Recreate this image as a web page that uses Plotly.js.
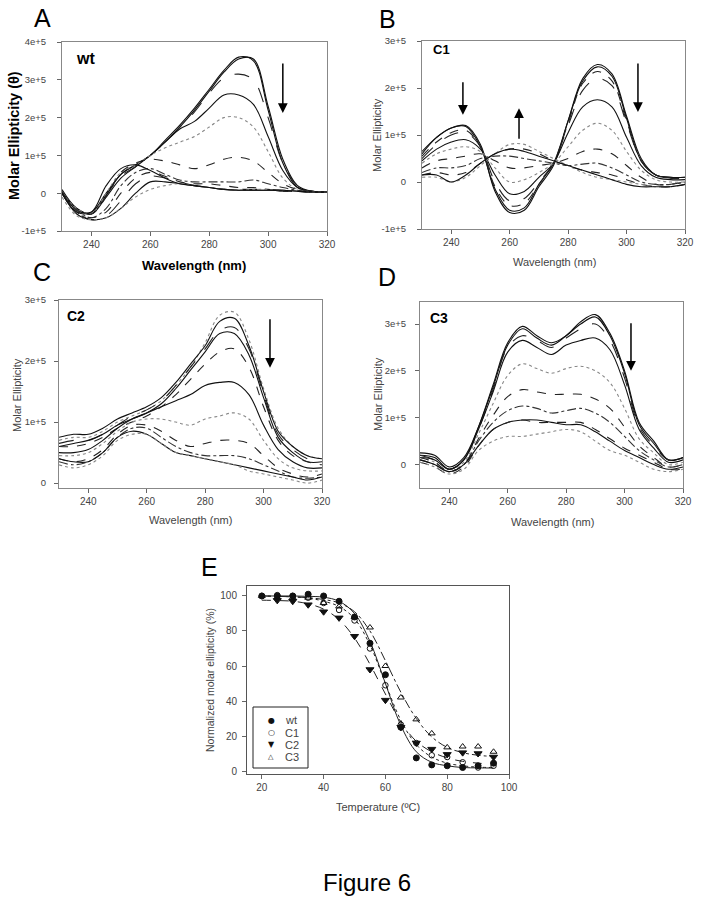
<!DOCTYPE html>
<html><head><meta charset="utf-8">
<script src="https://cdn.plot.ly/plotly-3.0.1.min.js"></script>
<style>html,body{margin:0;padding:0;background:#fff}#chart{width:701px;height:904px}</style>
</head><body><div id="chart"></div>
<script>
// Wavelength grid (nm)
const WAVELENGTH = [230,235,240,245,250,255,260,265,270,275,280,285,290,295,300,305,310,315,320];
// Molar ellipticity spectra, values in units of 1e4
const SPEC_WT = [
 [1,-4,-5.5,-1,4,7,10,13.5,17.5,22,27,32,35.5,35.5,23,9,2,0.5,0.3],
 [0.5,-4.5,-5,0,5,7.5,10,14,18,22.5,27.5,32.5,36,35,22,8,1.5,0.5,0.3],
 [0,-4,-5.5,-0.5,4.5,7,10,13.5,17.5,21.5,26.5,30.5,31.5,30,20,8,2,0.5,0.3],
 [0,-4,-5.5,-0.5,5,7.5,10,13.5,17,19,22.5,26,26,23.5,15,6,1.5,0.5,0.3],
 [0,-4,-5.5,0,5.5,7.5,10,12,13.5,15,17.5,20,20,17.5,11,4,1,0.5,0.3],
 [0,-4.5,-5.5,-1,5.5,8,9,8.5,7.5,6.5,7.5,9,9.5,8.5,5.5,2.5,1,0.5,0.3],
 [0,-4.5,-6.5,-4,2,5.5,6.5,5,3.5,3,3,3,3,3.5,2.5,1.5,0.8,0.5,0.3],
 [0,-5,-6.5,-5,0,4,5.5,4.5,3,2.5,2.5,2,1.5,1.5,1,0.5,0.5,0.3,0.3],
 [0,-5,-7,-6,-2,2.5,4.5,4,3,2,1.5,1,1,1,1,0.5,0.5,0.3,0.3],
 [0,-5.5,-7,-6.5,-4,0,3,3,2.5,2,1.5,1,0.8,0.8,0.8,0.8,0.5,0.3,0.3],
 [-1,-6,-7,-6.5,-4,-1,1,2,2.5,2,1.5,1,0.8,1,1,0.8,0.5,0.3,0.3],
 [0,-5,-5,2,6.5,7.5,6,4,2.5,2,1.5,1,0.8,0.8,0.8,0.8,0.5,0.3,0.3]
];
const SPEC_C1 = [
 [6,9.5,11.5,12,8,-2,-6.5,-6,-1,3.5,13,22,25,23,14,5,1.5,1,1],
 [6.5,9.5,11.5,11.8,7.5,-1.5,-6,-5.5,-0.5,4,13,21.5,24.5,22.5,13.5,4.5,1.5,1,1],
 [5.5,8.5,10.5,11,7.5,-1,-5,-4.5,-0.5,4,12.5,21,23.5,21.5,13,4.5,1.5,0.8,0.8],
 [5,8,10,10.5,7.5,0,-4,-3.5,0,4,12,19.5,22,20.5,12.5,4.5,1.5,0.8,0.8],
 [4.5,7,8.5,9,7,1.5,-2.5,-2,1,4,10.5,16,17.5,16,9.5,3.5,1,0.5,0.5],
 [4,6,7,7.5,6.5,3,0,0.5,2,4,7.5,11,12.5,11,6.5,2.5,0.5,0,0],
 [3,4.5,5,5.5,6,4.5,3,3,3.5,4,5,6.5,7,6,3.5,1,-0.5,-0.5,0],
 [2,3,3,3.5,5,5.5,5.5,5,4.5,4,3.5,3.8,4,3,1.5,0,-0.5,-0.5,0],
 [1.5,2,1.5,2,4,6,7,7,6,4.5,3.5,2.5,2,1.5,0.5,-0.5,-1,-1,-0.5],
 [1,1,0,1,3.5,6,8,8,6.5,5,3.5,2,1,0.5,0,-0.5,-1,-1,-0.5],
 [1.5,1.5,0,1.5,4,6,7,6.5,5.5,4.5,3.5,2.5,1.5,0.5,-0.5,-1,-1,-1,-0.5]
];
const SPEC_C2 = [
 [7,7.5,7.5,8.5,10,11,12,13.5,16,19,23,27.5,28,23.5,15.5,9,6,4.5,4],
 [7.5,8,8,9,10.5,11.5,12.5,14,16.5,19.5,22.5,26.5,27,22.5,15,8.5,6,4.5,4],
 [6.5,7,7,8,9.5,11,12,13.5,16,19,22,25,25.5,22,14.5,8,5.5,4,3.5],
 [6,6.5,7,8,9.5,10.5,11.5,13,15.5,18.5,21.5,24.5,24.5,21,14,7.5,5,3.5,3.5],
 [6,6,6.5,7.5,9,10,11,12.5,14.5,17,19.5,21.5,22,19,12.5,7,4.5,3.5,3],
 [5,5,5.5,7,9,10.5,11.5,12.5,13.5,14.5,16,16.5,16.5,14.5,9.5,5.5,3.5,2.5,2.5],
 [4.5,4.5,5,6.5,8.5,10,10.5,10.5,10,9.5,10.5,11,11.5,10.5,7,4,2.5,2,2],
 [4,3.5,4,5.5,8,9.5,9.5,8.5,7,6,6.5,7,7,6.5,4.5,2.5,1.5,1,1.5],
 [3.5,3,3.5,5,7.5,9,9,7.5,6,5,4.5,4.5,4.5,4,3,2,1,0.8,1],
 [4,3.5,3.5,5,7.5,8.5,8,6.5,5,4.5,4,3.5,3,2.5,2,1.5,1,0.5,1],
 [3,2.5,3,4.5,7,8,8,6.5,5,4.5,4,3.5,3,2,1.5,1,0.5,0,0.5]
];
const SPEC_C3 = [
 [2,1.5,-1,1,8,17,26,29.5,27.5,26,27.5,30.5,32,28,20,9,5,1,1.5],
 [2.5,2,-0.5,1.5,8,16.5,25.5,29,27,25.5,27.5,30,31.5,27.5,19.5,8.5,4.5,1,1.5],
 [2,1,-1,1,7.5,16,25,27.5,26.5,25,27,29,30,26.5,18.5,8,4,1,1],
 [1.5,1,-1,1,7.5,15.5,24,26.5,25,23.5,25.5,26.5,27,24.5,17,7.5,3.5,0.5,1],
 [1.5,0.5,-1.5,0.5,6.5,13,19,21.5,20.5,19.5,20.5,21,20,17.5,12,5.5,2.5,0,0.5],
 [1.5,0.5,-1.5,0,5.5,10.5,14.5,16,15.5,15,15,15,14,12,8,4,1.5,-0.5,0],
 [1,0,-1.5,0,5,9,11.5,12.5,12,11,11.5,12,11,9,6,3,1,-0.5,0],
 [1,0,-1.5,0,4,7.5,9,9.5,9.5,9,8.5,8.5,7,5,3,1.5,0,-1,-0.5],
 [0.5,-0.5,-2,-0.5,4,7.5,9,9.5,9,9,9,9,7.5,5.5,3.5,2,0.5,-1,-1],
 [0.5,-0.5,-2,-1,3,5,6,6,6.5,7,7.5,7,5,3,2,0.5,-1,-1.5,-1]
];
// Thermal denaturation (panel E)
const TEMP = [20,25,30,35,40,45,50,55,60,65,70,75,80,85,90,95];
const TEMP_C2 = [25,30,35,40,45,50,55,60,65,70,75,80,85,90,95];
const E_WT = [100,100,100,101,100,97,88,73,55,25,7.5,3.5,3,2,3,4.5];
const E_C1 = [100,100.5,100,99,96,92,86,70,49,26.5,16,9,8,5,2,3];
const E_C2 = [97.5,97,95,91,87.5,77,58,40.5,25,16,12.5,9.5,10.5,10,8];
const E_C3 = [100,99,99,99,96,94,88,82,60,42,29.5,21.5,13.5,14,14,11];
const FIT_WT = [100,100,100,99.8,99.3,97,90,74,50,26,11,5,3,2,1.8,1.7];
const FIT_C1 = [100,99.8,99.5,98.8,97,94,87,72,50,29,15,8,4.5,3,2.2,2];
const FIT_C2 = [97.6,97.4,97,95.5,92.5,86.5,76,61,44,28,17,11,7.5,5.5,4.5,4];
const FIT_C3 = [100,99.8,99.5,99,98,96,91,80,63,45,30,19.5,13.5,10.5,9,8.3];
const SERIES_NAMES = ['wt','C1','C2','C3'];
const LEGEND_GLYPHS = ['●','○','▼','△'];

const WL_TICKS = [240,260,280,300,320];
const Y_TICKVALS = [-10,0,10,20,30,40];
const Y_TICKTEXT = ['-1e+5','0','1e+5','2e+5','3e+5','4e+5'];
const T_TICKS = [20,40,60,80,100];
const P_TICKS = [0,20,40,60,80,100];

const W = 701, H = 904;
const fx = p => p / W, fy = p => 1 - p / H;
const FONT = 'Liberation Sans, Arial, sans-serif';

const STY = {
  s:  {dash:'solid', color:'#111'},
  d:  {dash:'dash', color:'#222'},
  ld: {dash:'longdash', color:'#222'},
  o:  {dash:'dot', color:'#888'},
  dd: {dash:'dashdot', color:'#333'}
};
const STYLE_WT = ['s','s','ld','s','o','d','dd','d','ld','s','o','s'];
const STYLE_C1 = ['s','s','d','ld','s','o','d','dd','d','o','s'];
const STYLE_C2 = ['o','s','ld','s','d','s','o','d','dd','s','o'];
const STYLE_C3 = ['s','s','ld','s','o','d','dd','s','d','o'];

const traces = [];
function addSpectra(curves, styles, xa, ya) {
  curves.forEach((c, i) => {
    const st = STY[styles[i]];
    traces.push({x: WAVELENGTH, y: c, xaxis: xa, yaxis: ya, mode: 'lines', showlegend: false,
      hoverinfo: 'skip', line: {shape: 'spline', smoothing: 1, width: 1.1, dash: st.dash, color: st.color}});
  });
}
addSpectra(SPEC_WT, STYLE_WT, 'x', 'y');
addSpectra(SPEC_C1, STYLE_C1, 'x2', 'y2');
addSpectra(SPEC_C2, STYLE_C2, 'x3', 'y3');
addSpectra(SPEC_C3, STYLE_C3, 'x4', 'y4');

// Panel E fits
[[FIT_WT,'solid'],[FIT_C1,'dot'],[FIT_C2,'dash'],[FIT_C3,'dashdot']].forEach(([f,d]) => {
  traces.push({x: TEMP, y: f, xaxis: 'x5', yaxis: 'y5', mode: 'lines', showlegend: false,
    line: {shape: 'spline', smoothing: 1, width: 1, dash: d, color: '#222'}});
});
const mk = (name, x, y, sym, size) => ({x, y, name, xaxis: 'x5', yaxis: 'y5', mode: 'markers', showlegend: false,
  marker: {symbol: sym, size, color: '#111', line: {width: 1, color: '#111'}}});
traces.push(mk(SERIES_NAMES[0], TEMP, E_WT, 'circle', 6));
traces.push(mk(SERIES_NAMES[1], TEMP, E_C1, 'circle-open', 5.5));
traces.push(mk(SERIES_NAMES[2], TEMP_C2, E_C2, 'triangle-down', 7));
traces.push(mk(SERIES_NAMES[3], TEMP, E_C3, 'triangle-up-open', 6));

function ax(dom, range, tv, tt, standoff, fsize) {
  const a = {domain: dom, range, tickmode: 'array', tickvals: tv, showline: true, mirror: true,
    linecolor: '#888', linewidth: 1, ticks: 'outside', ticklen: 4, tickcolor: '#666',
    tickfont: {size: fsize || 10, color: '#444', family: FONT}, showgrid: false, zeroline: false, fixedrange: true};
  if (tt) a.ticktext = tt;
  if (standoff) a.ticklabelstandoff = standoff;
  return a;
}
const layout = {
  width: W, height: H, margin: {l: 0, r: 0, t: 0, b: 0}, paper_bgcolor: '#fff', plot_bgcolor: '#fff',
  font: {family: FONT, color: '#000'},
  showlegend: false,
  xaxis:  Object.assign(ax([fx(62), fx(327)], [230, 320], WL_TICKS), {anchor: 'y'}),
  yaxis:  Object.assign(ax([fy(231), fy(42)], [-10, 40], Y_TICKVALS, Y_TICKTEXT, 9, 9.5), {anchor: 'x'}),
  xaxis2: Object.assign(ax([fx(422), fx(685)], [230, 320], WL_TICKS), {anchor: 'y2'}),
  yaxis2: Object.assign(ax([fy(229), fy(41)], [-10, 30], Y_TICKVALS.slice(0,5), Y_TICKTEXT.slice(0,5), 9, 9.5), {anchor: 'x2'}),
  xaxis3: Object.assign(ax([fx(59), fx(322)], [230, 320], WL_TICKS), {anchor: 'y3'}),
  yaxis3: Object.assign(ax([fy(488), fy(300)], [-0.8, 30], Y_TICKVALS.slice(1,5), Y_TICKTEXT.slice(1,5), 6, 9.5), {anchor: 'x3'}),
  xaxis4: Object.assign(ax([fx(420), fx(683)], [230, 320], WL_TICKS), {anchor: 'y4'}),
  yaxis4: Object.assign(ax([fy(488), fy(302)], [-5, 34.7], Y_TICKVALS.slice(1,5), Y_TICKTEXT.slice(1,5), 7, 9.5), {anchor: 'x4'}),
  xaxis5: Object.assign(ax([fx(247), fx(509)], [15.2, 100], T_TICKS), {anchor: 'y5'}),
  yaxis5: Object.assign(ax([fy(774), fy(586)], [-1.7, 105.7], P_TICKS, null, 3), {anchor: 'x5'}),
  annotations: [],
  shapes: []
};
layout.xaxis5.linecolor = '#555'; layout.yaxis5.linecolor = '#555';

const A = layout.annotations;
function txt(text, x, y, size, opts) {
  A.push(Object.assign({text, x: fx(x), y: fy(y), xref: 'paper', yref: 'paper', showarrow: false,
    xanchor: 'center', yanchor: 'middle', font: {size, family: FONT, color: '#000'}}, opts || {}));
}
const gray = s => ({font: {size: s, family: FONT, color: '#444'}});
// Panel letters
txt('A', 42, 18, 25); txt('B', 387, 19, 25); txt('C', 42, 272, 25); txt('D', 387, 277, 25); txt('E', 209, 567, 25);
// In-plot labels
txt('<b>wt</b>', 85, 58, 16); txt('<b>C1</b>', 441, 49, 13); txt('<b>C2</b>', 76, 316, 14); txt('<b>C3</b>', 439, 318, 14);
// Axis titles
txt('<b>Molar Ellipticity (θ)</b>', 14, 136, 14.5, {textangle: -90});
txt('<b>Wavelength (nm)</b>', 194, 265, 13);
txt('Molar Ellipticity', 377, 135, 11, Object.assign({textangle: -90}, gray(11)));
txt('Wavelength (nm)', 554, 262, 11, gray(11));
txt('Molar Ellipticity', 17, 395, 11, Object.assign({textangle: -90}, gray(11)));
txt('Wavelength (nm)', 191, 520, 11, gray(11));
txt('Molar Ellipticity', 378, 394, 11, Object.assign({textangle: -90}, gray(11)));
txt('Wavelength (nm)', 552, 522, 11, gray(11));
txt('Normalized molar ellipticity (%)', 210, 680, 10.5, Object.assign({textangle: -90}, gray(10.5)));
txt('Temperature (ºC)', 378, 807, 11, gray(11));
txt('Figure 6', 367, 882, 24);

// Panel E legend box
layout.shapes.push({type: 'rect', xref: 'paper', yref: 'paper', x0: fx(253), x1: fx(308), y0: fy(768), y1: fy(707),
  line: {color: '#222', width: 1}, fillcolor: '#fff'});
const LEG_Y = [720, 732.5, 744.5, 757];
const GLYPH_SIZE = [8, 8, 8, 7];
SERIES_NAMES.forEach((n, i) => {
  txt(LEGEND_GLYPHS[i], 271, LEG_Y[i], GLYPH_SIZE[i], {font: {size: GLYPH_SIZE[i], family: 'DejaVu Sans', color: '#111'}});
  txt(n, 283, LEG_Y[i], 11, Object.assign({xanchor: 'left'}, gray(11)));
});

// Arrows
function arrow(xr, yr, x, y, ay) {
  A.push({xref: xr, yref: yr, x, y, ax: 0, ay, axref: 'pixel', ayref: 'pixel', text: '', showarrow: true,
    arrowhead: 2, arrowsize: 1.3, arrowwidth: 1.5, arrowcolor: '#000', standoff: 0});
}
arrow('x', 'y', 305, 21.2, -51);
arrow('x2', 'y2', 244, 14.3, -34);
arrow('x2', 'y2', 263.2, 15.7, 32);
arrow('x2', 'y2', 303.9, 14.9, -50);
arrow('x3', 'y3', 302.2, 18.9, -50);
arrow('x4', 'y4', 302.2, 20, -49);

Plotly.newPlot('chart', traces, layout, {staticPlot: true, displayModeBar: false});
</script></body></html>
